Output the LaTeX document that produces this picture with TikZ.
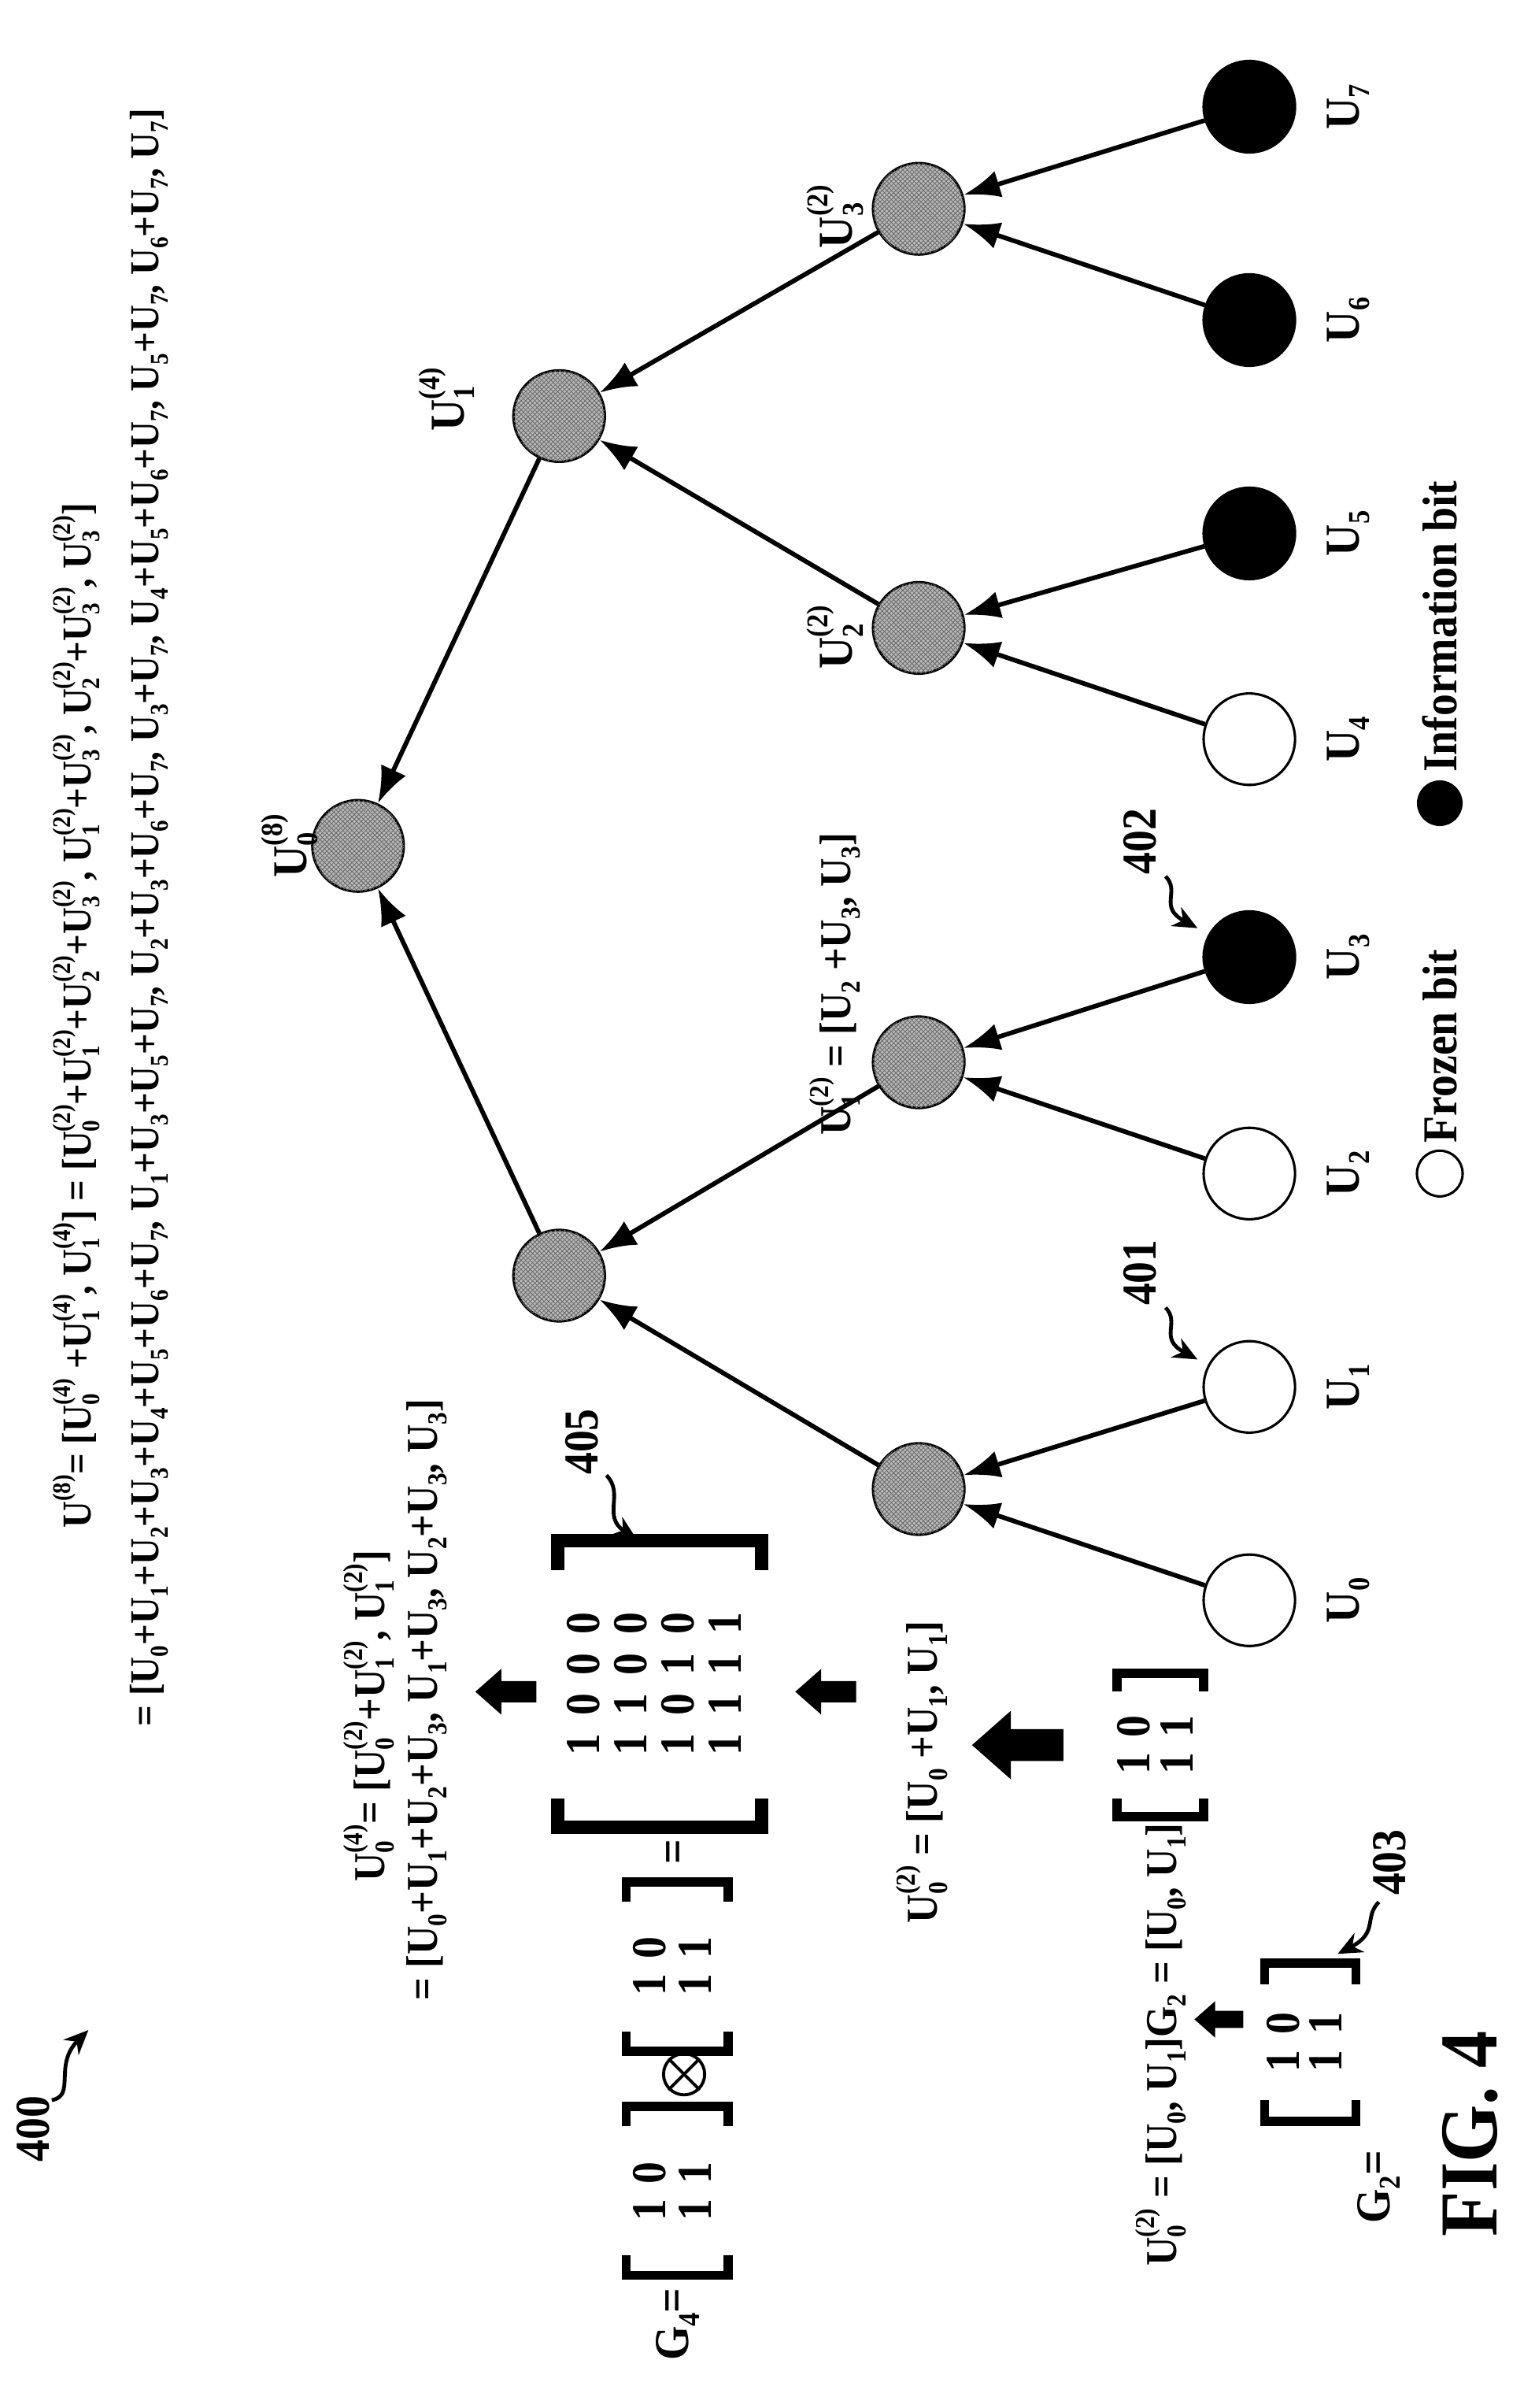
\documentclass[tikz,border=0pt]{standalone}
\usepackage{fontspec}
\setmainfont{Liberation Serif}[FakeStretch=0.9]
\usetikzlibrary{arrows.meta,patterns}
\newcommand\sm[1]{\scalebox{0.62}{#1}}
\newcommand\Ui[1]{U\raisebox{-0.22em}{\sm{#1}}}
\newcommand\Uu[2]{U\rlap{\raisebox{-0.22em}{\sm{#1}}}\raisebox{0.5em}{\sm{(#2)}}}
\begin{document}
\begin{tikzpicture}[x=1pt,y=-1pt,
  every node/.style={rotate=90,font=\bfseries,inner sep=0pt},
  txt/.style={font=\fontsize{29}{31}\bfseries\selectfont},
  top/.style={font=\fontsize{27}{29}\bfseries\selectfont},
  lbl/.style={font=\fontsize{32}{34}\bfseries\selectfont},
  mat/.style={font=\fontsize{32}{34}\bfseries\selectfont},
  leaf/.style={circle,draw,line width=1.6pt,minimum size=60pt,fill=white},
  inf/.style={leaf,fill=black},
  mid/.style={circle,draw,line width=1.6pt,minimum size=60pt,fill=gray!55,postaction={pattern=crosshatch,pattern color=black!60}},
  edge/.style={line width=3pt,-{Latex[length=24pt,width=18pt]}},
  sq/.style={line width=2.5pt,-{Stealth[length=16pt,width=14pt]}},
  brk/.style={line width=#1,line cap=butt},
  fat/.style={fill=black,draw=none}]
\useasboundingbox (0,0) rectangle (1000,1580);
% tree
\node[leaf] (u0) at (820,1050) {};
\node[leaf] (u1) at (820,910) {};
\node[leaf] (u2) at (820,770) {};
\node[inf] (u3) at (820,628) {};
\node[leaf] (u4) at (820,485) {};
\node[inf] (u5) at (820,350) {};
\node[inf] (u6) at (820,210) {};
\node[inf] (u7) at (820,70) {};
\node[mid] (a0) at (603,977) {};
\node[mid] (a1) at (603,697) {};
\node[mid] (a2) at (603,412) {};
\node[mid] (a3) at (603,137) {};
\node[mid] (b0) at (367,837) {};
\node[mid] (b1) at (367,273) {};
\node[mid] (r) at (235,555) {};
\foreach \c/\p in {u0/a0,u1/a0,u2/a1,u3/a1,u4/a2,u5/a2,u6/a3,u7/a3,a0/b0,a1/b0,a2/b1,a3/b1,b0/r,b1/r}
  \draw[edge] (\c) -- (\p);
\foreach \n/\y in {0/1050,1/910,2/770,3/628,4/485,5/350,6/210,7/70}
  \node[lbl] (l\n) at (885,\y) {\Ui{\n}};
\node[lbl] (lr) at (190,555) {\Uu{0}{8}};
\node[lbl] (lb1) at (293,262) {\Uu{1}{4}};
\node[lbl] (la3) at (548,142) {\Uu{3}{2}};
\node[lbl] (la2) at (548,418) {\Uu{2}{2}};
\node[txt,anchor=west] (la1) at (548,745) {\Uu{1}{2} = [\Ui{2} +\Ui{3}, \Ui{3}]};
\node[txt,anchor=west] (la0) at (605,1262) {\Uu{0}{2} = [\Ui{0} +\Ui{1}, \Ui{1}]};
% legend
\node[circle,draw,line width=1.6pt,minimum size=30pt] (fz) at (945,770) {};
\node[lbl,anchor=west] (fzt) at (945,750) {Frozen bit};
\node[circle,fill=black,minimum size=30pt] (ib) at (945,527) {};
\node[lbl,anchor=west] (ibt) at (945,507) {Information bit};
\node[font=\fontsize{54}{56}\bfseries\selectfont] (fig) at (965,1400) {FIG. 4};
% reference numbers
\node[lbl] (n401) at (748,835) {401};
\coordinate (t401) at (786,892);
\draw[sq] (765,858) .. controls (775,868) and (760,878) .. (t401);
\node[lbl] (n402) at (748,552) {402};
\coordinate (t402) at (786,609);
\draw[sq] (765,575) .. controls (775,585) and (760,595) .. (t402);
\node[lbl] (n405) at (382,946) {405};
\coordinate (t405) at (418,1010);
\draw[sq] (398,968) .. controls (410,980) and (395,995) .. (t405);
\node[lbl] (n403) at (912,1222) {403};
\coordinate (t403) at (878,1282);
\draw[sq] (905,1248) .. controls (895,1258) and (905,1268) .. (t403);
\node[lbl] (n400) at (22,1397) {400};
\coordinate (t400) at (58,1332);
\draw[sq] (34,1378) .. controls (50,1375) and (35,1355) .. (t400);
% top formulas
\node[top,anchor=east] (f1) at (50,330) {\Uu{}{8}= [\Uu{0}{4} +\Uu{1}{4}, \Uu{1}{4}] = [\Uu{0}{2}+\Uu{1}{2}+\Uu{2}{2}+\Uu{3}{2}, \Uu{1}{2}+\Uu{3}{2}, \Uu{2}{2}+\Uu{3}{2}, \Uu{3}{2}]};
\node[top,anchor=west] (f2) at (98,1133) {= [\Ui0+\Ui1+\Ui2+\Ui3+\Ui4+\Ui5+\Ui6+\Ui7, \Ui1+\Ui3+\Ui5+\Ui7, \Ui2+\Ui3+\Ui6+\Ui7, \Ui3+\Ui7, \Ui4+\Ui5+\Ui6+\Ui7, \Ui5+\Ui7, \Ui6+\Ui7, \Ui7]};
\node[txt,anchor=west] (f3) at (242,1235) {\Uu{0}{4}= [\Uu{0}{2}+\Uu{1}{2}, \Uu{1}{2}]};
\node[txt,anchor=west] (f4) at (280,1313) {= [\Ui0+\Ui1+\Ui2+\Ui3, \Ui1+\Ui3, \Ui2+\Ui3, \Ui3]};
% G4 line
\node[lbl] (g4) at (445,1525) {G\raisebox{-0.22em}{\sm{4}}=};
\draw[brk=6pt] (411,1480) -- (411,1493) -- (478,1493) -- (478,1480);
\draw[brk=6pt] (411,1395) -- (411,1382) -- (478,1382) -- (478,1395);
\node[mat] (m1) at (445,1438) {\begin{tabular}{@{}c@{\hspace{10pt}}c@{}}1&0\\[-4pt]1&1\end{tabular}};
\node[circle,draw,line width=2pt,minimum size=27pt] (ot) at (449,1361) {};
\draw[line width=2pt] (ot.north east) -- (ot.south west) (ot.north west) -- (ot.south east);
\draw[brk=6pt] (411,1333) -- (411,1346) -- (478,1346) -- (478,1333);
\draw[brk=6pt] (411,1248) -- (411,1235) -- (478,1235) -- (478,1248);
\node[mat] (m2) at (445,1290) {\begin{tabular}{@{}c@{\hspace{10pt}}c@{}}1&0\\[-4pt]1&1\end{tabular}};
\node[lbl] (eq) at (445,1215) {=};
\draw[brk=9pt] (366,1180) -- (366,1199) -- (500,1199) -- (500,1180);
\draw[brk=9pt] (366,1030) -- (366,1011) -- (500,1011) -- (500,1030);
\node[mat] (m3) at (433,1105) {\begin{tabular}{@{}c@{\hspace{12pt}}c@{\hspace{12pt}}c@{\hspace{12pt}}c@{}}1&0&0&0\\[-3pt]1&1&0&0\\[-3pt]1&0&1&0\\[-3pt]1&1&1&1\end{tabular}};
% fat arrows (pointing left)
\foreach \xx/\yy/\s in {332/1110/1,542/1110/1,668/1145/1.5,800/1325/0.8}
  \fill[fat,shift={(\xx,\yy)},scale=\s] (-20,0) -- (-3,-15) -- (-3,-7) -- (20,-7) -- (20,7) -- (-3,7) -- (-3,15) -- cycle;
% G2 group
\node[txt,anchor=east] (g2l) at (762,1196) {\Uu{0}{2} = [\Ui0, \Ui1]G\raisebox{-0.22em}{\sm{2}} = [\Ui0, \Ui1]};
\draw[brk=6pt] (733,1180) -- (733,1192) -- (790,1192) -- (790,1180);
\draw[brk=6pt] (733,1110) -- (733,1098) -- (790,1098) -- (790,1110);
\node[mat] (m4) at (762,1145) {\begin{tabular}{@{}c@{\hspace{10pt}}c@{}}1&0\\[-6pt]1&1\end{tabular}};
\node[lbl] (g2) at (905,1435) {G\raisebox{-0.22em}{\sm{2}}=};
\draw[brk=6pt] (830,1378) -- (830,1392) -- (890,1392) -- (890,1378);
\draw[brk=6pt] (830,1302) -- (830,1288) -- (890,1288) -- (890,1302);
\node[mat] (m5) at (860,1340) {\begin{tabular}{@{}c@{\hspace{10pt}}c@{}}1&0\\[-6pt]1&1\end{tabular}};
\end{tikzpicture}
\end{document}
